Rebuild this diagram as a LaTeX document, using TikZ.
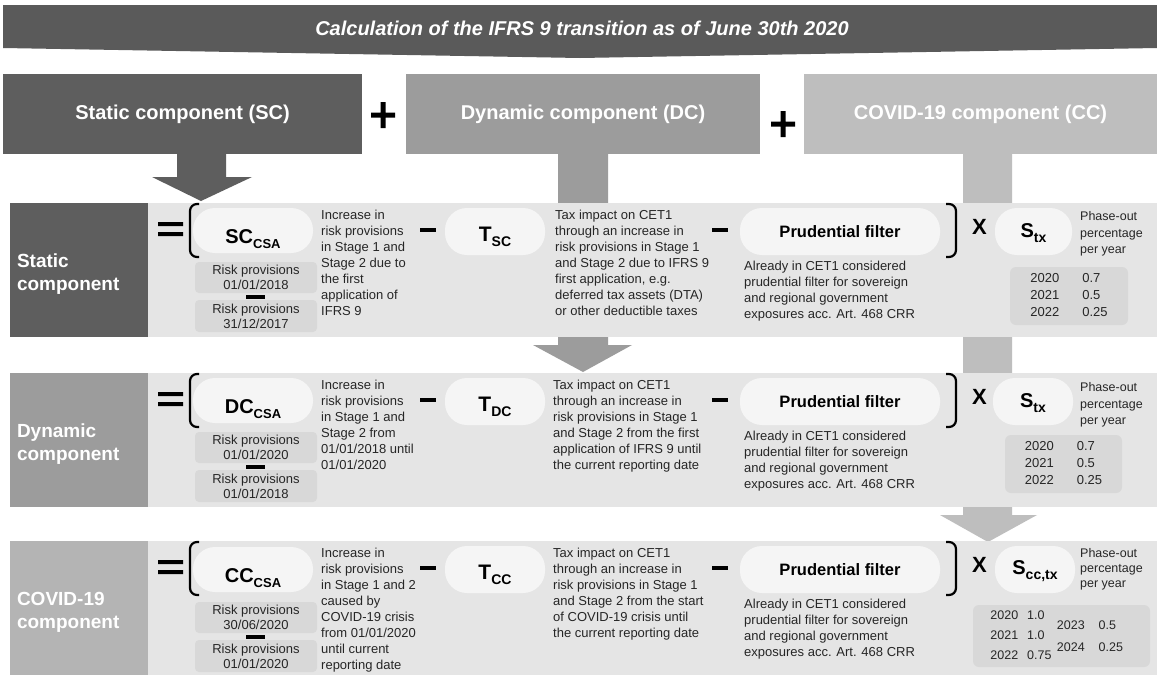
\documentclass[tikz,border=0pt]{standalone}
\usepackage{fontspec}
\setmainfont{Liberation Sans}
\definecolor{titlegray}{HTML}{5A5A5A}
\definecolor{scgray}{HTML}{5E5E5E}
\definecolor{dcgray}{HTML}{9C9C9C}
\definecolor{ccgray}{HTML}{BEBEBE}
\definecolor{lab3gray}{HTML}{B4B4B4}
\definecolor{bandgray}{HTML}{E5E5E5}
\definecolor{pillwhite}{HTML}{F5F5F5}
\definecolor{riskgray}{HTML}{D8D8D8}
\definecolor{txtgray}{HTML}{262626}
\tikzset{
 pill/.style={fill=pillwhite, rounded corners=22pt, inner sep=0pt},
 plabel/.style={font=\bfseries, inner sep=0pt, text=black},
 riskbox/.style={fill=riskgray, rounded corners=4pt, inner sep=0pt, align=center, font=\fontsize{13}{15}\selectfont, text=txtgray},
 desc/.style={anchor=north west, align=left, inner sep=0pt, font=\fontsize{13}{16}\selectfont, text=txtgray},
 phase/.style={anchor=north west, align=left, inner sep=0pt, font=\fontsize{12.5}{16.5}\selectfont, text=txtgray},
 labbox/.style={inner sep=0pt, minimum width=138pt, minimum height=134pt},
 labtext/.style={anchor=west, inner sep=0pt, align=left, font=\fontsize{19}{23}\selectfont\bfseries, text=white},
 hdr/.style={minimum height=80pt, inner sep=0pt, font=\fontsize{20}{24}\selectfont\bfseries, text=white},
 brk/.style={line width=2.2pt, rounded corners=7pt, draw=black},
 tbl/.style={fill=riskgray, rounded corners=6pt, inner sep=0pt, text=txtgray},
 opfill/.style={fill=black},
 xsign/.style={font=\fontsize{22}{22}\selectfont\bfseries, inner sep=0pt},
}
\begin{document}
\begin{tikzpicture}[x=1pt,y=-1pt]
\useasboundingbox (0,0) rectangle (1157,675);
\fill[white] (0,0) rectangle (1157,675);

% title banner
\fill[titlegray] (3,5) -- (1157,5) -- (1157,48) -- (580,58) -- (3,48) -- cycle;
\node[font=\fontsize{20}{24}\selectfont\bfseries\itshape, text=white, inner sep=0pt] (title) at (582,28) {Calculation of the IFRS 9 transition as of June 30th 2020};

% block arrows (behind bands)
\fill[scgray] (177,150) -- (226,150) -- (226,177) -- (252,177) -- (201,201) -- (152,177) -- (177,177) -- cycle;
\fill[dcgray] (558,150) -- (608,150) -- (608,345) -- (632,345) -- (583,372) -- (533,345) -- (558,345) -- cycle;
\fill[ccgray] (963,150) -- (1012,150) -- (1012,515) -- (1037,515) -- (988,542) -- (940,515) -- (963,515) -- cycle;

% headers
\node[hdr, fill=scgray, minimum width=359pt] (hsc) at (182.5,114) {Static component (SC)};
\node[hdr, fill=dcgray, minimum width=354pt] (hdc) at (583,114) {Dynamic component (DC)};
\node[hdr, fill=ccgray, minimum width=353pt] (hcc) at (980.5,114) {COVID-19 component (CC)};
\fill[opfill] (371,112.5) rectangle (395,117.5) (380.5,102) rectangle (385.5,128);
\fill[opfill] (771,121.5) rectangle (795,126.5) (780.5,111) rectangle (785.5,137);

% ===== Row 1 =====
\begin{scope}[shift={(0,203)}]
\fill[bandgray] (10,0) rectangle (1157,134);
\node[labbox, fill=scgray] (l1) at (79,67) {};
\node[labtext] (l1t) at ([xshift=7pt,yshift=-4pt]l1.west) {Static\\component};
\fill[opfill] (158,19) rectangle (183,23) (158,29) rectangle (183,33);
\draw[brk] (199,1) -- (190,1) -- (190,54) -- (199,54);
\node[pill, minimum width=120pt, minimum height=45pt] (pa1) at (253,27.5) {};
\node[plabel] (ta1) at ([yshift=-9pt]pa1.center) {{\fontsize{20}{20}\selectfont SC}\raisebox{-5pt}{\fontsize{13}{13}\selectfont CSA}};
\node[riskbox, minimum width=122pt, minimum height=31pt] (ra1) at (256,74.5) {Risk provisions\\01/01/2018};
\node[riskbox, minimum width=122pt, minimum height=32pt] (rb1) at (256,113) {Risk provisions\\31/12/2017};
\fill[opfill] (246,92) rectangle (265,95.5);
\node[desc] (da1) at (321,7.3) {Increase in\\risk provisions\\in Stage 1 and\\Stage 2 due to\\the first\\application of\\IFRS 9};
\fill[opfill] (420,25) rectangle (436,29);
\node[pill, minimum width=100pt, minimum height=47pt] (pb1) at (495,28.5) {};
\node[plabel] (tb1) at ([yshift=-5pt]pb1.center) {{\fontsize{21}{21}\selectfont T}\raisebox{-5pt}{\fontsize{14}{14}\selectfont SC}};
\node[desc] (db1) at (555,7.3) {Tax impact on CET1\\through an increase in\\risk provisions in Stage 1\\and Stage 2 due to IFRS 9\\first application, e.g.\\deferred tax assets (DTA)\\or other deductible taxes};
\fill[opfill] (712,25) rectangle (728,29);
\node[pill, minimum width=200pt, minimum height=47pt] (pc1) at (840,28.5) {};
\node[plabel, font=\fontsize{16.5}{16.5}\selectfont\bfseries] (tc1) at (pc1.center) {Prudential filter};
\node[desc] (dc1) at (744,58.3) {Already in CET1 considered\\prudential filter for sovereign\\and regional government\\exposures acc. Art. 468 CRR};
\draw[brk] (946,1) -- (956,1) -- (956,54) -- (946,54);
\node[xsign] (x1) at (979.5,23.5) {X};
\node[pill, minimum width=77pt, minimum height=47pt] (pd1) at (1033.5,28.5) {};
\node[plabel] (td1) at ([yshift=-2pt]pd1.center) {{\fontsize{20}{20}\selectfont S}\raisebox{-5pt}{\fontsize{14}{14}\selectfont tx}};
\node[phase] (ph1) at (1080,8.5) {Phase-out\\percentage\\per year};
\node[tbl, minimum width=118pt, minimum height=58pt] (tab1) at (1069,93) {\fontsize{13}{17}\selectfont\begin{tabular}{@{}l@{\hspace{23pt}}l@{}}2020&0.7\\2021&0.5\\2022&0.25\end{tabular}};
\end{scope}

% ===== Row 2 =====
\begin{scope}[shift={(0,373)}]
\fill[bandgray] (10,0) rectangle (1157,134);
\node[labbox, fill=dcgray] (l2) at (79,67) {};
\node[labtext] (l2t) at ([xshift=7pt,yshift=-4pt]l2.west) {Dynamic\\component};
\fill[opfill] (158,19) rectangle (183,23) (158,29) rectangle (183,33);
\draw[brk] (199,1) -- (190,1) -- (190,54) -- (199,54);
\node[pill, minimum width=120pt, minimum height=45pt] (pa2) at (253,27.5) {};
\node[plabel] (ta2) at ([yshift=-9pt]pa2.center) {{\fontsize{20}{20}\selectfont DC}\raisebox{-5pt}{\fontsize{13}{13}\selectfont CSA}};
\node[riskbox, minimum width=122pt, minimum height=31pt] (ra2) at (256,74.5) {Risk provisions\\01/01/2020};
\node[riskbox, minimum width=122pt, minimum height=32pt] (rb2) at (256,113) {Risk provisions\\01/01/2018};
\fill[opfill] (246,92) rectangle (265,95.5);
\node[desc] (da2) at (321,7.3) {Increase in\\risk provisions\\in Stage 1 and\\Stage 2 from\\01/01/2018 until\\01/01/2020};
\fill[opfill] (420,25) rectangle (436,29);
\node[pill, minimum width=100pt, minimum height=47pt] (pb2) at (495,28.5) {};
\node[plabel] (tb2) at ([yshift=-5pt]pb2.center) {{\fontsize{21}{21}\selectfont T}\raisebox{-5pt}{\fontsize{14}{14}\selectfont DC}};
\node[desc] (db2) at (553,7.3) {Tax impact on CET1\\through an increase in\\risk provisions in Stage 1\\and Stage 2 from the first\\application of IFRS 9 until\\the current reporting date};
\fill[opfill] (712,25) rectangle (728,29);
\node[pill, minimum width=200pt, minimum height=47pt] (pc2) at (840,28.5) {};
\node[plabel, font=\fontsize{16.5}{16.5}\selectfont\bfseries] (tc2) at (pc2.center) {Prudential filter};
\node[desc] (dc2) at (744,58.3) {Already in CET1 considered\\prudential filter for sovereign\\and regional government\\exposures acc. Art. 468 CRR};
\draw[brk] (946,1) -- (956,1) -- (956,54) -- (946,54);
\node[xsign] (x2) at (979.5,23.5) {X};
\node[pill, minimum width=80pt, minimum height=47pt] (pd2) at (1033,28.5) {};
\node[plabel] (td2) at ([yshift=-2pt]pd2.center) {{\fontsize{20}{20}\selectfont S}\raisebox{-5pt}{\fontsize{14}{14}\selectfont tx}};
\node[phase] (ph2) at (1080,9.5) {Phase-out\\percentage\\per year};
\node[tbl, minimum width=117pt, minimum height=58pt] (tab2) at (1063.5,91) {\fontsize{13}{17}\selectfont\begin{tabular}{@{}l@{\hspace{23pt}}l@{}}2020&0.7\\2021&0.5\\2022&0.25\end{tabular}};
\end{scope}

% ===== Row 3 =====
\begin{scope}[shift={(0,541)}]
\fill[bandgray] (10,0) rectangle (1157,134);
\node[labbox, fill=lab3gray] (l3) at (79,67) {};
\node[labtext] (l3t) at ([xshift=7pt,yshift=-4pt]l3.west) {COVID-19\\component};
\fill[opfill] (158,19) rectangle (183,23) (158,29) rectangle (183,33);
\draw[brk] (199,1) -- (190,1) -- (190,54) -- (199,54);
\node[pill, minimum width=120pt, minimum height=45pt] (pa3) at (253,28.5) {};
\node[plabel] (ta3) at ([yshift=-9pt]pa3.center) {{\fontsize{20}{20}\selectfont CC}\raisebox{-5pt}{\fontsize{13}{13}\selectfont CSA}};
\node[riskbox, minimum width=122pt, minimum height=31pt] (ra3) at (256,76.5) {Risk provisions\\30/06/2020};
\node[riskbox, minimum width=122pt, minimum height=32pt] (rb3) at (256,115) {Risk provisions\\01/01/2020};
\fill[opfill] (246,94) rectangle (265,97.5);
\node[desc] (da3) at (321,7.3) {Increase in\\risk provisions\\in Stage 1 and 2\\caused by\\COVID-19 crisis\\from 01/01/2020\\until current\\reporting date};
\fill[opfill] (420,25) rectangle (436,29);
\node[pill, minimum width=100pt, minimum height=47pt] (pb3) at (495,28.5) {};
\node[plabel] (tb3) at ([yshift=-5pt]pb3.center) {{\fontsize{21}{21}\selectfont T}\raisebox{-5pt}{\fontsize{14}{14}\selectfont CC}};
\node[desc] (db3) at (553,7.3) {Tax impact on CET1\\through an increase in\\risk provisions in Stage 1\\and Stage 2 from the start\\of COVID-19 crisis until\\the current reporting date};
\fill[opfill] (712,25) rectangle (728,29);
\node[pill, minimum width=200pt, minimum height=47pt] (pc3) at (840,28.5) {};
\node[plabel, font=\fontsize{16.5}{16.5}\selectfont\bfseries] (tc3) at (pc3.center) {Prudential filter};
\node[desc] (dc3) at (744,58.3) {Already in CET1 considered\\prudential filter for sovereign\\and regional government\\exposures acc. Art. 468 CRR};
\draw[brk] (946,1) -- (956,1) -- (956,54) -- (946,54);
\node[xsign] (x3) at (979.5,23.5) {X};
\node[pill, minimum width=80pt, minimum height=47pt] (pd3) at (1035,28.5) {};
\node[plabel] (td3) at ([yshift=-2pt]pd3.center) {{\fontsize{20}{20}\selectfont S}\raisebox{-5pt}{\fontsize{14}{14}\selectfont cc,tx}};
\node[phase, font=\fontsize{12.5}{15}\selectfont] (ph3) at (1080,7.5) {Phase-out\\percentage\\per year};
\node[tbl, minimum width=177pt, minimum height=62pt] (tab3) at (1061.5,95) {};
\node[inner sep=0pt, text=txtgray] (tab3a) at (1021,94) {\fontsize{12.5}{20}\selectfont\begin{tabular}{@{}l@{\hspace{9pt}}l@{}}2020&1.0\\2021&1.0\\2022&0.75\end{tabular}};
\node[inner sep=0pt, text=txtgray] (tab3b) at (1090,95) {\fontsize{12.5}{22}\selectfont\begin{tabular}{@{}l@{\hspace{14pt}}l@{}}2023&0.5\\2024&0.25\end{tabular}};
\end{scope}
\end{tikzpicture}
\end{document}
